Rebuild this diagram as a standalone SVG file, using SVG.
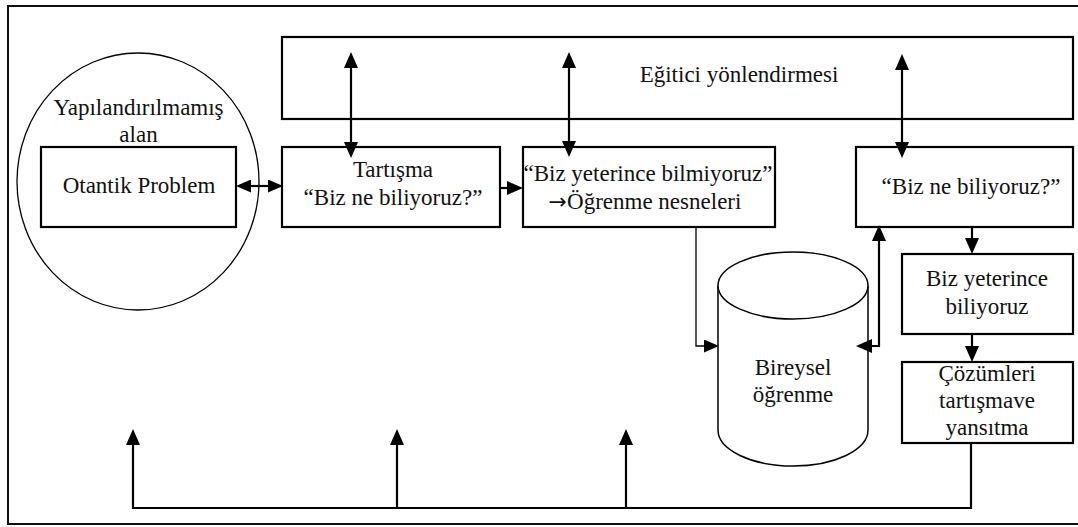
<svg xmlns="http://www.w3.org/2000/svg" width="1078" height="527" viewBox="0 0 1078 527">
<style>
.box{fill:#fff;stroke:#000;stroke-width:2.2}
.thin{fill:none;stroke:#000;stroke-width:1.3}
.ln{fill:none;stroke:#000;stroke-width:2.2}
text{font-family:'Liberation Serif','Times New Roman','DejaVu Serif',serif;font-size:23px;fill:#111;text-anchor:middle}
</style>
<defs>
<marker id="ah" markerUnits="userSpaceOnUse" markerWidth="16" markerHeight="14" refX="8" refY="7" orient="auto-start-reverse">
<path d="M0,0 L16,7 L0,14 z" fill="#000"/>
</marker>
<marker id="ahs" markerUnits="userSpaceOnUse" markerWidth="15" markerHeight="13" refX="7" refY="6.5" orient="auto-start-reverse">
<path d="M0,0 L15,6.5 L0,13 z" fill="#000"/>
</marker>
</defs>
<rect width="1078" height="527" fill="#fff"/>
<rect id="frame" x="8" y="6" width="1080" height="518" fill="none" stroke="#111" stroke-width="2"/>

<g id="alan">
<ellipse cx="138" cy="181.5" rx="121" ry="128.5" fill="none" stroke="#000" stroke-width="1.3"/>
<text font-family="Liberation Serif, serif" x="138.5" y="115">Yapılandırılmamış</text>
<text font-family="Liberation Serif, serif" x="138.5" y="142">alan</text>
</g>
<g id="egitici">
<rect class="box" x="282" y="37" width="791" height="82"/>
<text font-family="Liberation Serif, serif" x="739" y="82">Eğitici yönlendirmesi</text>
</g>
<g id="otantik">
<rect class="box" x="41" y="147" width="195" height="80"/>
<text font-family="Liberation Serif, serif" x="139" y="193">Otantik Problem</text>
</g>
<g id="tartisma">
<rect class="box" x="282" y="147" width="218" height="80"/>
<text font-family="Liberation Serif, serif" x="393" y="177">Tartışma</text>
<text font-family="Liberation Serif, serif" x="393" y="205">“Biz ne biliyoruz?”</text>
</g>
<g id="bilmiyoruz">
<rect class="box" x="523" y="147" width="252" height="80"/>
<text font-family="Liberation Serif, serif" x="648" y="181">“Biz yeterince bilmiyoruz”</text>
<text font-family="Liberation Serif, serif" x="645" y="209"><tspan font-family="DejaVu Sans, sans-serif" font-size="22">→</tspan>Öğrenme nesneleri</text>
</g>
<g id="biliyoruz">
<rect class="box" x="856" y="147" width="217" height="80"/>
<text font-family="Liberation Serif, serif" x="971" y="194">“Biz ne biliyoruz?”</text>
</g>
<g id="yeterince">
<rect class="box" x="902" y="254" width="171" height="80"/>
<text font-family="Liberation Serif, serif" x="987" y="286">Biz yeterince</text>
<text font-family="Liberation Serif, serif" x="987" y="314">biliyoruz</text>
</g>
<g id="cozumleri">
<rect class="box" x="902" y="362" width="171" height="81"/>
<text font-family="Liberation Serif, serif" x="987" y="381">Çözümleri</text>
<text font-family="Liberation Serif, serif" x="987" y="408">tartışmave</text>
<text font-family="Liberation Serif, serif" x="987" y="435">yansıtma</text>
</g>
<g id="bireysel">
<path d="M868,285.5 V430 A75,36 0 0 1 718,430 V285.5" fill="#fff" stroke="#000" stroke-width="1.5"/>
<ellipse cx="793" cy="285.5" rx="75" ry="33.5" fill="#fff" stroke="#000" stroke-width="1.5"/>
<text font-family="Liberation Serif, serif" x="793" y="375">Bireysel</text>
<text font-family="Liberation Serif, serif" x="793" y="402">öğrenme</text>
</g>

<g id="connectors">
<line class="ln" x1="351" y1="60" x2="351" y2="150" marker-start="url(#ah)" marker-end="url(#ah)"/>
<line class="ln" x1="569" y1="60" x2="569" y2="149" marker-start="url(#ah)" marker-end="url(#ah)"/>
<line class="ln" x1="902" y1="62" x2="902" y2="150" marker-start="url(#ah)" marker-end="url(#ah)"/>
<line class="ln" x1="244" y1="186" x2="275" y2="186" marker-start="url(#ahs)" marker-end="url(#ahs)"/>
<line class="ln" x1="500" y1="188" x2="515" y2="188" marker-end="url(#ah)"/>
<path class="thin" d="M696,227 V346 H711" marker-end="url(#ahs)"/>
<path class="ln" d="M864,346 H879 V233" marker-start="url(#ah)" marker-end="url(#ah)"/>
<line class="ln" x1="972" y1="227" x2="972" y2="246" marker-end="url(#ah)"/>
<line class="ln" x1="972" y1="334" x2="972" y2="354" marker-end="url(#ah)"/>
<path class="ln" d="M971,443 V508 H133 V437" marker-end="url(#ah)"/>
<line class="ln" x1="397" y1="508" x2="397" y2="437" marker-end="url(#ah)"/>
<line class="ln" x1="626" y1="508" x2="626" y2="437" marker-end="url(#ah)"/>
</g>
</svg>
